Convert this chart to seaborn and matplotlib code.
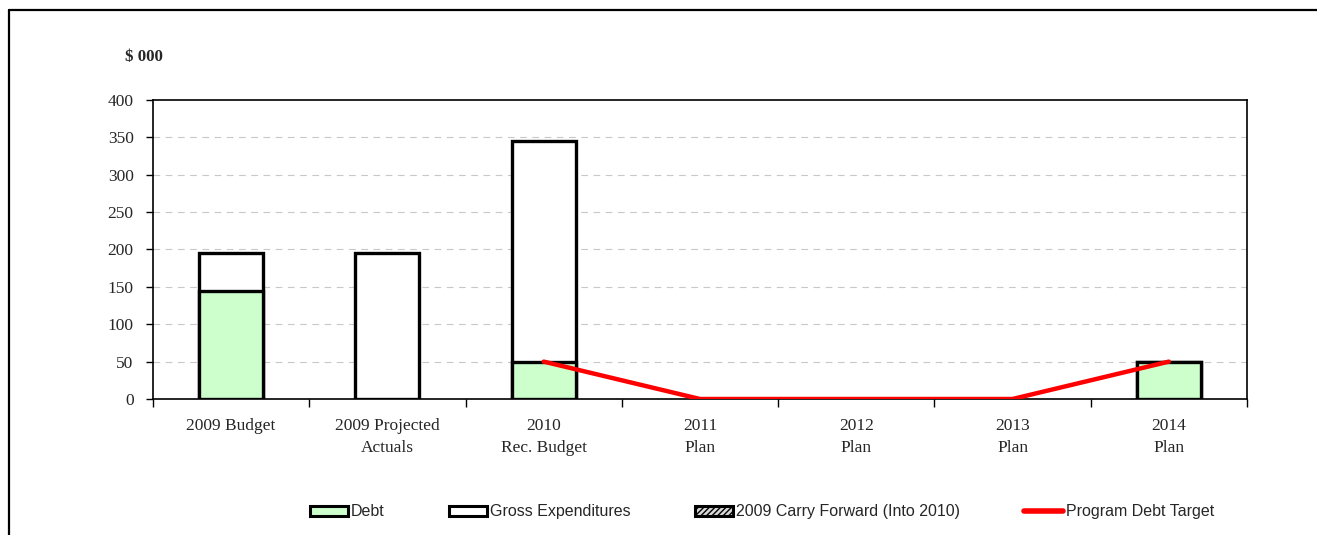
import numpy as np
import pandas as pd
import seaborn as sns
import matplotlib.pyplot as plt
from matplotlib.patches import Patch
from matplotlib.lines import Line2D

categories = ['2009 Budget', '2009 Projected\nActuals', '2010\nRec. Budget',
              '2011\nPlan', '2012\nPlan', '2013\nPlan', '2014\nPlan']
debt = [145, 0, 50, 0, 0, 0, 50]
gross = [50, 195, 295, 0, 0, 0, 0]
debt_target = [np.nan, np.nan, 50, 0, 0, 0, 50]

df = pd.DataFrame({'category': categories, 'debt': debt, 'gross': gross,
                   'target': debt_target})
df['total'] = df['debt'] + df['gross']
df['pos'] = np.arange(len(df))

sns.set_style('white')
plt.rcParams['font.family'] = ['Liberation Serif', 'DejaVu Serif']

fig = plt.figure(figsize=(13.17, 5.35), dpi=100)
ax = fig.add_axes([0.1162, 0.2542, 0.8306, 0.5589])

# gridlines behind
for y in range(50, 400, 50):
    ax.axhline(y, color='#c8c8c8', lw=0.8, ls=(0, (6, 5)), zorder=0)

# stacked bars: total (white) then debt (green) on top
sns.barplot(data=df, x='category', y='total', color='white', edgecolor='black',
            linewidth=2.4, width=0.41, saturation=1, ax=ax, zorder=2)
sns.barplot(data=df, x='category', y='debt', color='#ccffcc', edgecolor='black',
            linewidth=2.4, width=0.41, saturation=1, ax=ax, zorder=3)
for p in ax.patches:
    if p.get_height() == 0:
        p.set_visible(False)

sns.lineplot(data=df, x='pos', y='target', color='red', lw=3.2, ax=ax,
             legend=False, zorder=4, solid_capstyle='round')

ax.set_xlim(-0.5, len(categories) - 0.5)
ax.set_ylim(0, 400)
ax.set_yticks(range(0, 401, 50))
ax.set_xticks(np.arange(-0.5, len(categories), 1.0))
ax.set_xticklabels([])
ax.set_xticks(np.arange(len(categories)), minor=True)
ax.set_xticklabels(categories, minor=True, fontsize=12.5, linespacing=1.45)
ax.tick_params(axis='x', which='major', direction='out', length=6, width=1,
               color='black', bottom=True)
ax.tick_params(axis='x', which='minor', length=0, pad=14)
ax.tick_params(axis='y', direction='out', length=5, width=1, color='black',
               left=True, labelsize=12.5, pad=9)
ax.set_xlabel('')
ax.set_ylabel('')
for s in ax.spines.values():
    s.set_color('black')
    s.set_linewidth(1.2)

fig.text(0.109, 0.893, '$ 000', fontsize=12.2, fontweight='bold', ha='center',
         va='center')

handles = [
    Patch(facecolor='#ccffcc', edgecolor='black', linewidth=2.2),
    Patch(facecolor='white', edgecolor='black', linewidth=2.2),
    Patch(facecolor='#d8d8d8', edgecolor='black', linewidth=2.2, hatch='//////'),
    Line2D([0], [0], color='red', lw=4),
]
labels = ['Debt', 'Gross Expenditures', '2009 Carry Forward (Into 2010)',
          'Program Debt Target']
fig.legend(handles, labels, loc='center', bbox_to_anchor=(0.5785, 0.043),
           ncol=4, frameon=False, prop={'family': 'Liberation Sans', 'size': 11.5},
           handlelength=2.4, handleheight=0.6, handletextpad=0.2,
           columnspacing=4.0)

# outer frame (top and left edges visible)
fig.add_artist(Line2D([0.0065, 0.0065], [0, 0.981], color='black', lw=1.6,
                      transform=fig.transFigure))
fig.add_artist(Line2D([0.0065, 1.0], [0.981, 0.981], color='black', lw=1.6,
                      transform=fig.transFigure))

fig.savefig('out.png', dpi=100)
